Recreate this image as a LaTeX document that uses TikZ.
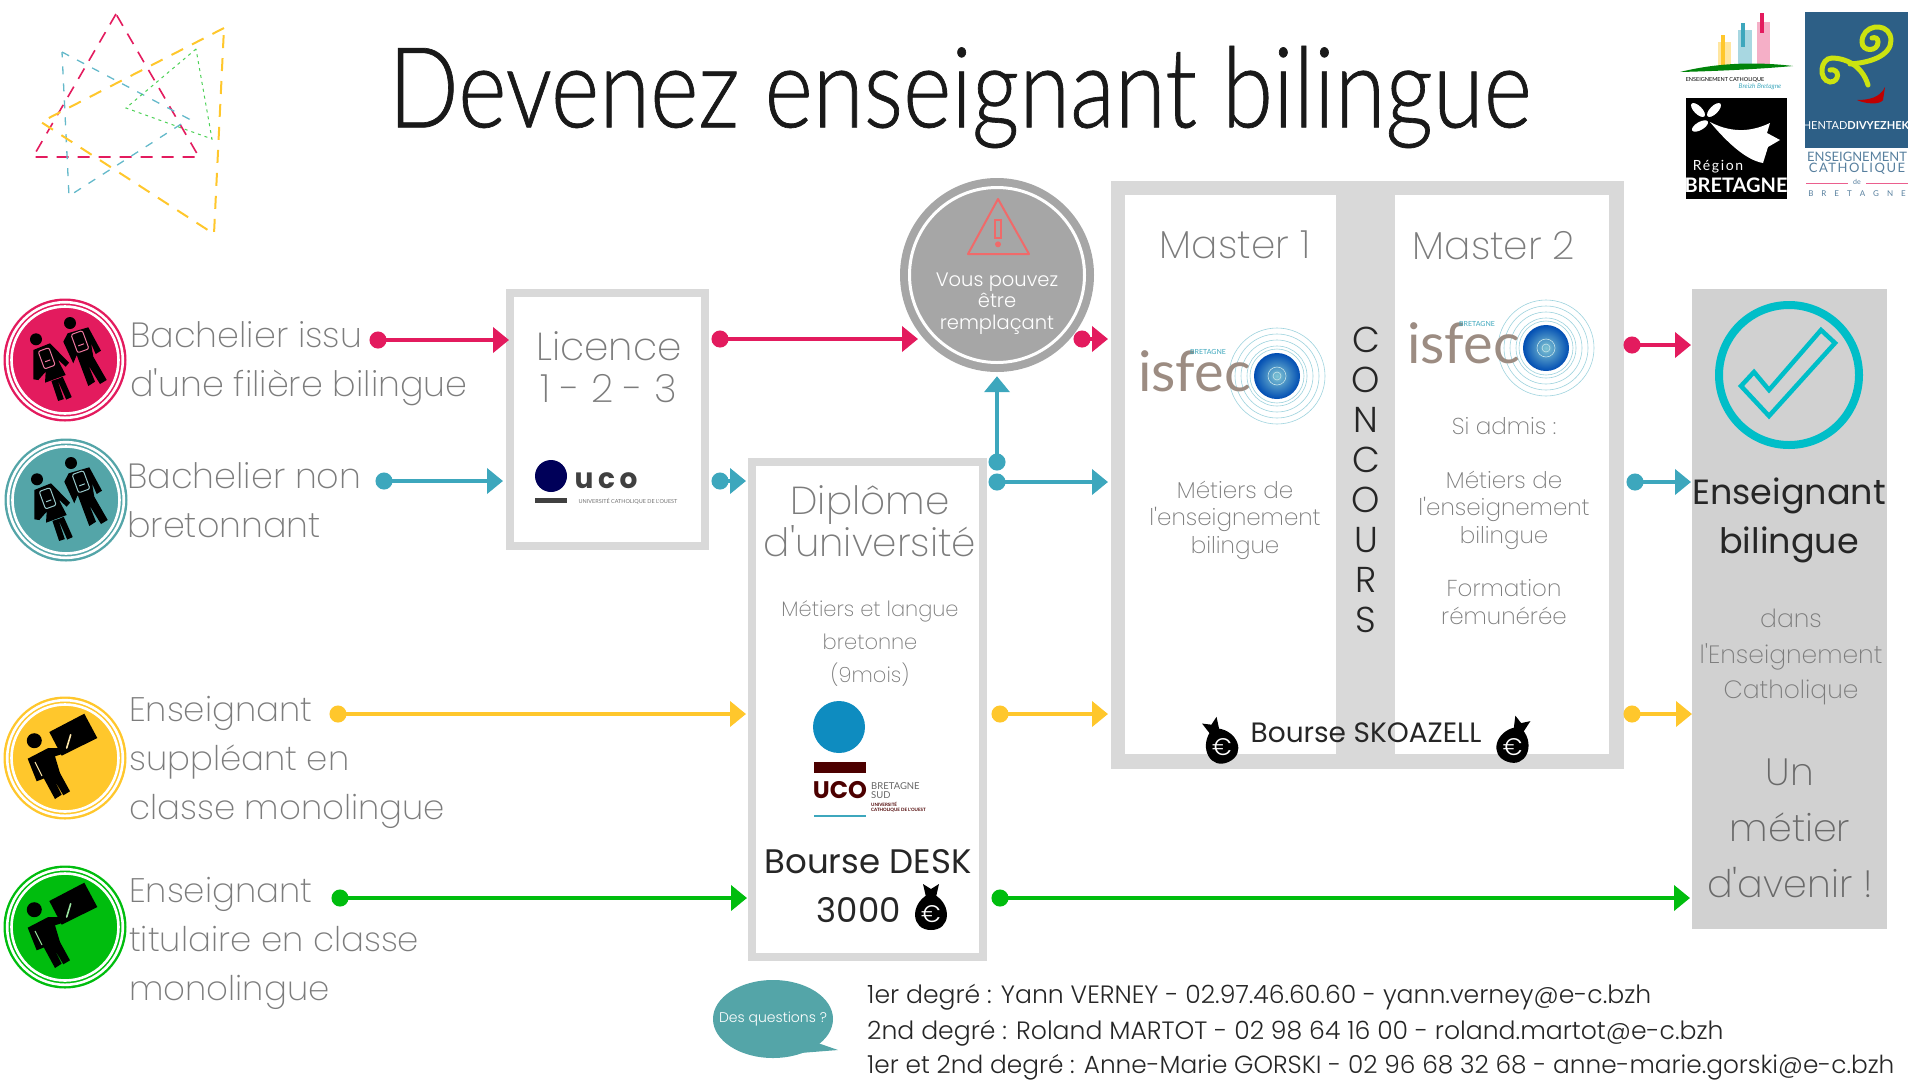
\documentclass[tikz,border=0pt]{standalone}
\usepackage{fontspec}
\setmainfont{Poppins Light}
\newfontfamily\thinfont{Poppins ExtraLight}
\newfontfamily\lightfont{Poppins Light}
\newfontfamily\titlefont[FakeStretch=0.826,FakeBold=0.6]{Lato Light}
\newfontfamily\darkfont{Poppins}
\newfontfamily\logofont{Lato}
\newfontfamily\spacedfont[LetterSpace=12]{Lato}
\usetikzlibrary{arrows.meta}
\definecolor{pinkc}{HTML}{E31B5E}
\definecolor{tealc}{HTML}{3DA7BD}
\definecolor{yellowc}{HTML}{FFC72C}
\definecolor{greenc}{HTML}{00BD0E}
\definecolor{badgeteal}{HTML}{54A5A8}
\definecolor{boxgray}{HTML}{D9D9D9}
\definecolor{softtext}{HTML}{7C7C7C}
\definecolor{isfecbrown}{HTML}{9C8C82}
\definecolor{hentad}{HTML}{2D5F86}
\definecolor{checkc}{HTML}{00BEC8}
\definecolor{warnc}{HTML}{F06A6A}
\definecolor{ucoblue}{HTML}{0E8CC0}
\tikzset{
    flow/.style={line width=4.5pt, draw=#1, shorten <=-8.5pt, {Circle[length=17pt,width=17pt,fill=#1]}-{Triangle[length=16pt,width=25pt,fill=#1]}},
    framebox/.style={draw=boxgray, line width=8pt, fill=white, inner sep=0pt},
    sidetext/.style={anchor=base west, align=left, inner sep=0pt, text=softtext, font=\thinfont\fontsize{#1}{49}\selectfont},
    boxtitle/.style={align=center, text=softtext, font=\thinfont\fontsize{39}{42}\selectfont},
    boxtext/.style={align=center, text=softtext, font=\thinfont\fontsize{23}{27.5}\selectfont},
    darktext/.style={align=center, text=black!85, font=\darkfont\fontsize{#1}{#1}\selectfont},
    contact/.style={anchor=west, inner sep=0pt, text=black!85, font=\lightfont\fontsize{#1}{25}\selectfont},
    pics/badge/.style={code={
        \fill[#1] (0,0) circle (61.5);
        \draw[white, line width=2.6pt] (0,0) circle (57.8) (0,0) circle (53.5);
    }},
    pics/students/.style={code={
        \fill (-29,-20.7) circle (6);
        \fill (-31.7,-10) -- (-15,-16.7) -- (4,2.7) -- (0.7,6.7) -- (-7.3,-0.7) -- (0.7,15) -- (-20,22.7) -- (-19.3,11.7) -- (-26.7,20) -- (-31.7,19.3) -- cycle;
        \draw[line width=6pt] (-10.7,20) -- (-4,40) (-5,18) -- (4,38.3);
        \draw[#1, line width=1pt, rounded corners=2pt, rotate around={20:(-18.3,-1.7)}] (-24,-11) rectangle (-12.6,7.6);
        \draw[#1, line width=1pt, rotate around={20:(-18.3,-1.7)}] (-21,1) -- (-15.5,1);
        \fill (5,-37) circle (6);
        \fill (2.7,-26.7) -- (23.3,-32.7) -- (36,-9.3) -- (30.7,-6) -- (26,-16.7) -- (28.3,-3.3) -- (41.7,20) -- (35,24) -- (23.3,5) -- (30,21.7) -- (23.3,26) -- (11.7,-5) -- (8.3,3.3) -- (-1.7,-18.3) -- cycle;
        \draw[#1, line width=1pt, rounded corners=2pt, rotate around={20:(15,-18.3)}] (9,-28) rectangle (21,-8.6);
        \draw[#1, line width=1pt, rotate around={20:(15,-18.3)}] (12,-15) -- (18,-15);
    }},
    pics/teacher/.style={code={
        \fill (19.3,-44.3) -- (32.3,-20) -- (-3.3,-2.3) -- (-15.7,-26) -- cycle;
        \fill (-30.7,-17.3) circle (7.5);
        \fill (-37.3,0.7) -- (-16.7,-10) -- (1.7,-10) -- (3.3,-6) -- (-10,-1.7) -- (-5,15) -- (5,33.3) -- (-1.7,37.3) -- (-11.7,20) -- (-3.3,36.7) -- (-10,41) -- (-23,17) -- (-20,20) -- (-28.3,23.3) -- cycle;
        \draw[#1, line width=1pt] (-30,4) -- (-23,18);
        \draw[#1, line width=1.6pt, line cap=round] (1.7,-10) -- (5.7,-23.3);
    }},
    pics/bag/.style={code={
        \fill (-4,-12) .. controls (-21,-2) and (-20,23) .. (0,23) .. controls (20,23) and (21,-2) .. (4,-12) -- cycle;
        \fill (-8,-23) -- (0,-18) -- (8,-23) -- (5,-10) -- (-5,-10) -- cycle;
        \node[white, inner sep=0pt, font=\lightfont\fontsize{24}{24}\selectfont] (bagsign) at (0,7) {€};
    }},
    pics/isfec/.style={code={
        \foreach \ringr in {48,42,36,30,27} {
            \draw[tealc!50, line width=0.6pt] (0,0) circle (\ringr);
        }
        \shade[inner color=tealc!65, outer color=teal!60!blue] (0,0) circle (23);
        \draw[white!70!tealc, line width=0.6pt] (0,0) circle (9) (0,0) circle (4);
        \node[anchor=east, inner sep=0pt, text=isfecbrown, font=\logofont\fontsize{56}{56}\selectfont] (isfecname) at (-26,-5) {isfec};
        \node[anchor=west, inner sep=0pt, text=tealc, font=\logofont\fontsize{7}{7}\selectfont] (isfecregion) at (-87,-24) {BRETAGNE};
    }},
}
\begin{document}
\begin{tikzpicture}[x=1pt, y=-1pt]
    \useasboundingbox (0,0) rectangle (1920,1080);
    % top left triangles
    \draw[pinkc, dash pattern=on 12pt off 9pt, line width=1.6pt] (116,14) -- (33,157) -- (199,157) -- cycle;
    \draw[tealc!80, dash pattern=on 8pt off 9pt, line width=1.3pt] (62,52) -- (189,119) -- (69,196) -- cycle;
    \draw[yellowc, dash pattern=on 13pt off 10pt, line width=2pt] (224,28) -- (41,122) -- (214,234) -- cycle;
    \draw[greenc!70, dash pattern=on 3pt off 4pt, line width=1pt] (196,49) -- (126,108) -- (212,139) -- cycle;

    \node[font=\titlefont\fontsize{112}{112}\selectfont, text=black!90] (title) at (960,97) {Devenez enseignant bilingue};

    % logos top right
    \fill[yellowc!45] (1718,42) rectangle (1731,68);
    \fill[tealc!45] (1738,30) rectangle (1752,68);
    \fill[pinkc!35] (1757,22) rectangle (1770,68);
    \fill[yellowc] (1721,35) rectangle (1725,68);
    \fill[tealc] (1741,23) rectangle (1745,47);
    \fill[pinkc] (1760,13) rectangle (1764,33);
    \fill[greenc!70!black] (1680,72) .. controls (1720,62) and (1760,62) .. (1793,66) .. controls (1760,69) and (1720,71) .. (1680,72) -- cycle;
    \node[font=\logofont\fontsize{5.5}{5.5}\selectfont, inner sep=0pt] (catholique) at (1725,80) {ENSEIGNEMENT CATHOLIQUE};
    \node[font=\logofont\itshape\fontsize{6.5}{6.5}\selectfont, inner sep=0pt, text=tealc] (breizh) at (1760,87) {Breizh Bretagne};

    \fill[black] (1686,98) rectangle (1787,199);
    \fill[white] (1710,122) .. controls (1735,135) and (1755,130) .. (1770,123) -- (1767,133) -- (1780,140) -- (1768,147) -- (1763,163) .. controls (1745,160) and (1725,140) .. (1710,122) -- cycle;
    \fill[white, rotate around={-45:(1698,110)}] (1698,110) ellipse (9 and 4);
    \fill[white, rotate around={45:(1714,110)}] (1714,110) ellipse (9 and 4);
    \fill[white, rotate around={30:(1700,126)}] (1700,126) ellipse (9 and 4);
    \node[white, inner sep=0pt, font=\spacedfont\fontsize{14}{14}\selectfont] (region) at (1718,167) {Région};
    \node[white, inner sep=0pt, font=\logofont\bfseries\fontsize{20}{20}\selectfont] (bretagne) at (1736,185) {BRETAGNE};

    \fill[hentad] (1805,12) rectangle (1908,148);
    \draw[yellow!80!green, line width=5pt, line cap=round] (1868,85) .. controls (1862,65) and (1845,58) .. (1832,58) .. controls (1820,58) and (1818,80) .. (1830,82) .. controls (1840,82) and (1840,68) .. (1830,70);
    \draw[yellow!80!green, line width=5pt, line cap=round] (1850,64) .. controls (1880,62) and (1895,50) .. (1890,35) .. controls (1885,22) and (1862,25) .. (1862,42) .. controls (1862,52) and (1878,52) .. (1878,42) .. controls (1878,38) and (1875,37) .. (1872,38);
    \fill[red!75!black] (1885,87) .. controls (1880,98) and (1868,100) .. (1857,100) .. controls (1865,104) and (1880,105) .. (1883,100) -- cycle;
    \node[white, inner sep=0pt, font=\logofont\fontsize{11}{11}\selectfont] (hentadname) at (1856,126) {HENTAD\textbf{DIVYEZHEK}};
    \node[hentad!80, inner sep=0pt, font=\logofont\fontsize{13}{13}\selectfont] (ecname) at (1857,157) {ENSEIGNEMENT};
    \node[hentad!80, inner sep=0pt, font=\spacedfont\fontsize{13}{13}\selectfont] (ecnameb) at (1857,169) {CATHOLIQUE};
    \node[hentad!80, inner sep=0pt, font=\logofont\fontsize{7}{7}\selectfont] (ecde) at (1857,182) {de};
    \draw[pinkc!70, line width=0.8pt] (1806,183) -- (1848,183) (1866,183) -- (1908,183);
    \node[hentad!80, inner sep=0pt, font=\logofont\fontsize{8}{8}\selectfont] (ecbzh) at (1857,194) {B\quad R\quad E\quad T\quad A\quad G\quad N\quad E};

    % publics on the left
    \pic at (65,360) {badge=pinkc};
    \pic at (65,360) {students=pinkc!60};
    \pic at (66,500) {badge=badgeteal};
    \pic at (66,500) {students=badgeteal!60};
    \pic at (65,758) {badge=yellowc};
    \pic at (65,758) {teacher=yellowc!40};
    \pic at (65,927) {badge=greenc};
    \pic at (65,927) {teacher=greenc!40};
    \node[sidetext=35] (bachA) at (130,396) {Bachelier issu\\d'une filière bilingue};
    \node[sidetext=35] (bachB) at (127,537) {Bachelier non\\bretonnant};
    \node[sidetext=34] (teachA) at (129,819) {Enseignant\\suppléant en\\classe monolingue};
    \node[sidetext=34] (teachB) at (129,1000) {Enseignant\\titulaire en classe\\monolingue};

    % licence
    \node[framebox, minimum width=195pt, minimum height=253pt] (licence) at (607.5,419.5) {};
    \node[boxtitle] (licname) at (609,367) {Licence\\1 - 2 - 3};
    \fill[blue!35!black] (551,476) circle (16);
    \fill[black!75] (535,498) rectangle (567,503);
    \node[inner sep=0pt, text=black!75, font=\darkfont\bfseries\fontsize{28}{28}\selectfont] (licuco) at (606,481) {u\,c\,o};
    \node[inner sep=0pt, text=black!55, font=\logofont\fontsize{5.5}{5.5}\selectfont] (licucosub) at (628,501) {UNIVERSITÉ CATHOLIQUE DE L'OUEST};

    % diplome
    \node[framebox, minimum width=231pt, minimum height=495pt] (diplome) at (867.5,709.5) {};
    \node[boxtitle] (dipname) at (870,521) {Diplôme\\d'université};
    \node[boxtext, font=\thinfont\fontsize{21}{33}\selectfont] (diptext) at (870,644) {Métiers et langue\\bretonne\\(9mois)};
    \fill[ucoblue] (839,727) circle (26);
    \fill[black!70!red] (814,762) rectangle (866,773);
    \node[inner sep=0pt, text=black!70!red, font=\darkfont\bfseries\fontsize{24}{24}\selectfont] (dipuco) at (840,790) {UCO};
    \node[anchor=west, inner sep=0pt, align=left, text=black!60, font=\logofont\fontsize{9.5}{9}\selectfont] (dipsud) at (871,790.5) {BRETAGNE\\SUD};
    \node[anchor=west, inner sep=0pt, align=left, text=black!70!red, font=\logofont\bfseries\fontsize{4.5}{5}\selectfont] (dipsub) at (871,807.5) {UNIVERSITÉ\\CATHOLIQUE DE L'OUEST};
    \draw[tealc, line width=2pt] (814,816) -- (866,816);
    \node[darktext=34] (desk) at (868,862) {Bourse DESK};
    \node[darktext=34] (deskval) at (859,910) {3000};
    \pic at (931,907) {bag};

    % concours
    \node[fill=boxgray, minimum width=513pt, minimum height=588pt, inner sep=0pt] (masters) at (1367.5,475) {};
    \node[fill=white, minimum width=211pt, minimum height=559pt, inner sep=0pt] (masterA) at (1230.5,474.5) {};
    \node[fill=white, minimum width=214pt, minimum height=559pt, inner sep=0pt] (masterB) at (1502,474.5) {};
    \node[boxtitle] (masAname) at (1235,245) {Master 1};
    \node[boxtitle] (masBname) at (1494,246) {Master 2};
    \pic at (1277,376) {isfec};
    \pic at (1546,348) {isfec};
    \node[boxtext] (masAtext) at (1235,520) {Métiers de\\l'enseignement\\bilingue};
    \node[boxtext] (masBadmis) at (1504,426) {Si admis :};
    \node[boxtext] (masBtext) at (1504,510) {Métiers de\\l'enseignement\\bilingue};
    \node[boxtext] (masBpaid) at (1504,602) {Formation\\rémunérée};
    \node[align=center, text=black!85, font=\lightfont\fontsize{36}{40}\selectfont] (concours) at (1366,480) {C\\O\\N\\C\\O\\U\\R\\S};
    \node[darktext=28] (skoazell) at (1366,733) {Bourse SKOAZELL};
    \pic[rotate=25] at (1219,741) {bag};
    \pic[rotate=-20] at (1515,740) {bag};

    % replacement circle
    \node[circle, fill=black!35, minimum size=194pt, inner sep=0pt] (remplace) at (997,275) {};
    \draw[white, line width=3pt] (remplace.center) circle (87.5);
    \node[white, align=center, font=\lightfont\fontsize{19.5}{21.5}\selectfont] (remptext) at (997,303.5) {Vous pouvez\\être\\remplaçant};
    \draw[warnc, line width=2pt, line join=round] (998,199) -- (1029,254) -- (968,254) -- cycle;
    \draw[warnc, line width=2pt] (995,220) rectangle (1001,238);
    \fill[warnc] (998,244.3) circle (3);

    % result
    \node[fill=black!18, minimum width=195pt, minimum height=640pt, inner sep=0pt] (result) at (1789.5,609) {};
    \node[circle, draw=checkc, line width=8pt, minimum size=140pt, inner sep=0pt] (resultcheck) at (1789,375) {};
    \draw[checkc, line width=4.5pt, line join=miter] (1821,330) -- (1835,343) -- (1769,416) -- (1741,386) -- (1754,372) -- (1769,390) -- cycle;
    \node[darktext=35, font=\darkfont\fontsize{35}{49}\selectfont] (resultname) at (1789,520) {Enseignant\\bilingue};
    \node[boxtext, font=\thinfont\fontsize{25}{35.5}\selectfont] (resultwhere) at (1791,657) {dans\\l'Enseignement\\Catholique};
    \node[boxtitle, text=softtext!85!black, font=\thinfont\fontsize{38}{56}\selectfont] (resultnote) at (1790,828) {Un\\métier\\d'avenir !};

    % arrows
    \coordinate (pinkS) at (378,340);
    \coordinate (pinkT) at (509,340);
    \coordinate (pinkU) at (720,339);
    \coordinate (pinkV) at (918,339);
    \coordinate (pinkW) at (1082,339);
    \coordinate (pinkX) at (1108,339);
    \coordinate (pinkY) at (1632,345);
    \coordinate (pinkZ) at (1691,345);
    \coordinate (tealS) at (384,481);
    \coordinate (tealT) at (503,481);
    \coordinate (tealU) at (720,481);
    \coordinate (tealV) at (746,481);
    \coordinate (tealW) at (997,462);
    \coordinate (tealX) at (997,482);
    \coordinate (tealY) at (1108,482);
    \coordinate (tealZ) at (1635,482);
    \coordinate (tealEnd) at (1691,482);
    \coordinate (yellowS) at (338,714);
    \coordinate (yellowT) at (746,714);
    \coordinate (yellowU) at (1000,714);
    \coordinate (yellowV) at (1108,714);
    \coordinate (yellowW) at (1632,714);
    \coordinate (yellowX) at (1692,714);
    \coordinate (greenS) at (340,898);
    \coordinate (greenT) at (747,898);
    \coordinate (greenU) at (1000,898);
    \coordinate (greenV) at (1690,898);
    \draw[flow=pinkc] (pinkS) -- (pinkT);
    \draw[flow=pinkc] (pinkU) -- (pinkV);
    \draw[flow=pinkc] (pinkW) -- (pinkX);
    \draw[flow=pinkc] (pinkY) -- (pinkZ);
    \draw[flow=tealc] (tealS) -- (tealT);
    \draw[flow=tealc] (tealU) -- (tealV);
    \draw[flow=tealc] (tealW) -- ([yshift=-4pt]remplace.south);
    \draw[flow=tealc] (tealX) -- (tealY);
    \draw[flow=tealc] (tealZ) -- (tealEnd);
    \draw[flow=yellowc] (yellowS) -- (yellowT);
    \draw[flow=yellowc] (yellowU) -- (yellowV);
    \draw[flow=yellowc] (yellowW) -- (yellowX);
    \draw[flow=greenc] (greenS) -- (greenT);
    \draw[flow=greenc] (greenU) -- (greenV);

    % questions
    \fill[badgeteal] (815,1042) -- (838,1050) -- (800,1053) -- cycle;
    \fill[badgeteal] (773,1019) ellipse (60 and 39);
    \node[inner sep=0pt, text=white, font=\lightfont\fontsize{14}{14}\selectfont] (questions) at (773,1019) {Des questions ?};
    \node[contact=25.1] (contactA) at (867,997) {1er degré : Yann VERNEY - 02.97.46.60.60 - yann.verney@e-c.bzh};
    \node[contact=25.1] (contactB) at (867,1033) {2nd degré : Roland MARTOT - 02 98 64 16 00 - roland.martot@e-c.bzh};
    \node[contact=24.8] (contactC) at (867,1067) {1er et 2nd degré : Anne-Marie GORSKI - 02 96 68 32 68 - anne-marie.gorski@e-c.bzh};
\end{tikzpicture}
\end{document}
